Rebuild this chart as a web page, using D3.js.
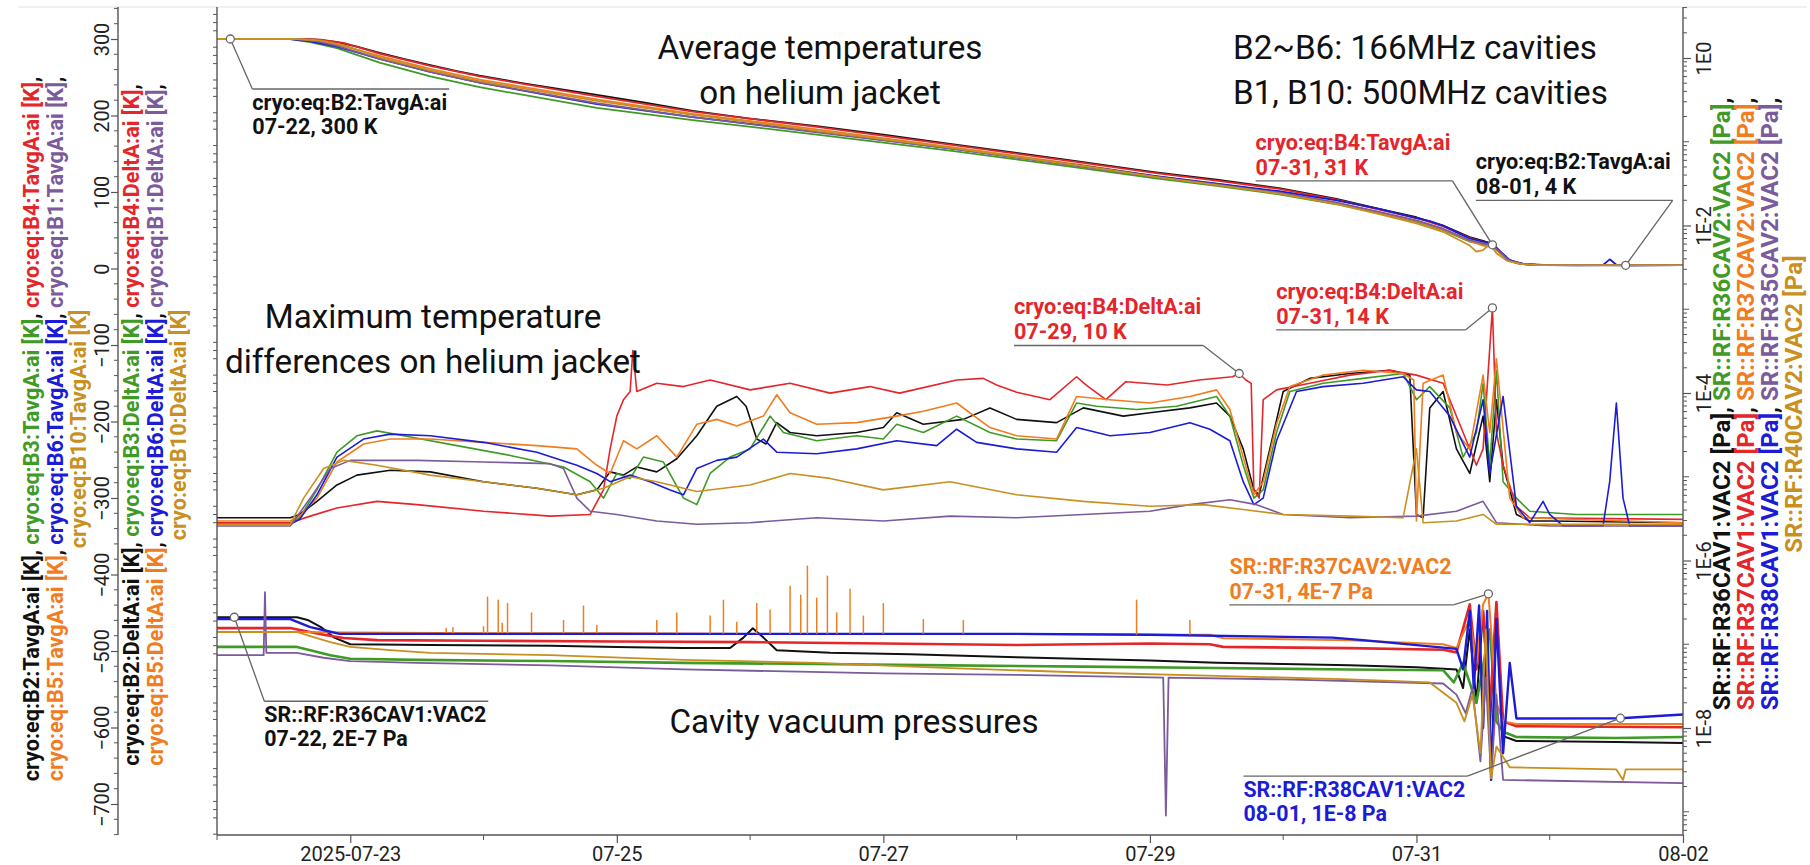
<!DOCTYPE html>
<html>
<head>
<meta charset="utf-8">
<script src="https://cdnjs.cloudflare.com/ajax/libs/d3/7.8.5/d3.min.js"></script>
<style>
  body { margin: 0; background: #fff; }
  svg { display: block; }
  text { font-family: Roboto, "DejaVu Sans", sans-serif; }
</style>
</head>
<body>
<svg id="chart" width="1810" height="865"></svg>
<script>
// ---------- time base: values are stored as days since 2025-07-22 00:00 (UTC) ----------
const START = Date.UTC(2025, 6, 22);
const dayToDate = d => new Date(START + d * 864e5);

// ---------- axis ticks ----------
const tavgTicks = [300, 200, 100, 0, -100, -200, -300, -400, -500, -600, -700];
const deltaTicks = [32, 30, 28, 26, 24, 22, 20, 18, 16, 14, 12, 10, 8, 6, 4, 2, 0, -2, -4, -6, -8, -10, -12, -14, -16, -18];
const vacTicks = [1, 1e-2, 1e-4, 1e-6, 1e-8];
const vacTickLabels = ["1E0", "1E-2", "1E-4", "1E-6", "1E-8"];
const dateTicks = ["2025-07-23", "2025-07-25", "2025-07-27", "2025-07-29", "2025-07-31", "2025-08-02"];
const dateTickLabels = ["2025-07-23", "07-25", "07-27", "07-29", "07-31", "08-02"];

// ---------- channel colours ----------
const colors = {
  B2: "#111111", B3: "#3f9a26", B4: "#e4262b", B5: "#f07d1f",
  B6: "#1c1cd6", B1: "#7b5b9c", B10: "#c8901f"
};
const vacColors = {
  R36CAV1: colors.B2, R36CAV2: colors.B3, R37CAV1: colors.B4, R37CAV2: colors.B5,
  R38CAV1: colors.B6, R35CAV2: colors.B1, R40CAV2: colors.B10
};

// ---------- average helium-jacket temperatures [K]: [day, value] ----------
const tavgB2 = [[0,300],[0.1,300],[0.62,300],[0.75,299],[0.9,296],[1.05,290],[1.22,282],[1.4,274],[1.6,266],[1.8,258],[1.97,252],[2.3,242],[2.85,227],[3.2,217],[3.57,206],[4.0,196],[4.5,186],[5.0,175],[5.5,163],[6.0,151],[6.5,139],[7.03,126],[7.5,116],[7.97,105],[8.4,91],[8.72,78],[9.0,67],[9.2,56],[9.4,41],[9.5,36],[9.57,32],[9.62,22],[9.68,12],[9.75,7],[9.85,5],[10.0,4.4],[10.57,4.2],[11,4.3]];
const tavgB3 = [[0,300],[0.55,300],[0.7,296],[0.9,288],[1.22,269],[1.6,251],[1.97,237],[2.85,210],[3.57,194],[4.5,175],[5.5,154],[6.5,131],[7.03,118],[7.5,108],[7.97,97],[8.4,84],[8.72,72],[9.0,61],[9.2,50],[9.4,35],[9.57,29],[9.63,20],[9.7,10],[9.8,6],[9.9,4.6],[11,4.4]];
const tavgB4 = [[0,300],[0.62,300],[0.78,299],[0.95,295],[1.22,281],[1.6,265],[1.97,251],[2.85,225],[3.57,205],[4.5,185],[5.5,162],[6.5,138],[7.03,125],[7.5,115],[7.97,104],[8.4,90],[8.72,77],[9.0,66],[9.2,55],[9.4,40],[9.57,31],[9.63,22],[9.7,11],[9.78,6],[9.9,4.6],[11,4.4]];
const tavgB5 = [[0,300],[0.6,300],[0.75,298],[0.9,293],[1.22,278],[1.6,261],[1.97,247],[2.85,221],[3.57,202],[4.5,182],[5.5,159],[6.5,135],[7.03,121],[7.5,111],[7.97,100],[8.4,86],[8.72,73],[9.0,62],[9.2,51],[9.4,36],[9.5,30],[9.57,28],[9.63,20],[9.7,10],[9.78,6],[9.9,4.6],[11,4.4]];
const tavgB6 = [[0,300],[0.55,300],[0.7,297],[0.9,290],[1.22,274],[1.6,257],[1.97,243],[2.85,215],[3.57,198],[4.5,179],[5.5,157],[6.5,134],[7.03,121],[7.5,111],[7.97,101],[8.4,89],[8.72,78],[9.0,66],[9.1,62],[9.2,56],[9.4,39],[9.5,35],[9.57,33],[9.63,22],[9.7,11],[9.8,6],[9.95,4.6],[10.2,4.0],[10.4,4.6],[10.45,12],[10.5,5],[10.6,4.2],[11,4.5]];
const tavgB1 = [[0,300],[0.6,300],[0.75,297],[0.9,291],[1.22,274],[1.6,257],[1.97,243],[2.85,216],[3.57,198],[4.5,178],[5.5,157],[6.5,133],[7.03,120],[7.5,110],[7.97,99],[8.4,86],[8.72,74],[9.0,63],[9.2,52],[9.4,37],[9.57,30],[9.63,21],[9.7,10],[9.8,6],[9.9,4.6],[11,4.4]];
const tavgB10 = [[0,300],[0.6,300],[0.78,298],[0.95,292],[1.22,276],[1.6,259],[1.97,245],[2.85,219],[3.57,201],[4.5,180],[5.5,158],[6.5,134],[7.03,120],[7.5,109],[7.97,98],[8.4,84],[8.72,71],[9.0,59],[9.2,48],[9.4,30],[9.45,22],[9.5,24],[9.55,32],[9.6,20],[9.68,10],[9.78,6],[9.9,4.6],[11,4.4]];

// ---------- maximum temperature differences [K]: [day, value] ----------
const deltaB2 = [[0,0.8],[0.55,0.8],[0.62,1.0],[0.75,1.8],[0.9,2.8],[1.05,3.4],[1.3,3.7],[1.6,3.6],[2.0,3.0],[2.4,2.6],[2.7,2.2],[2.85,2.5],[2.95,3.6],[3.05,3.4],[3.15,3.9],[3.3,3.6],[3.45,4.4],[3.6,5.8],[3.75,7.6],[3.9,8.2],[3.97,7.6],[4.05,5.6],[4.12,5.3],[4.2,6.6],[4.3,6.0],[4.5,5.8],[4.8,6.0],[5.0,6.3],[5.1,7.2],[5.3,6.5],[5.6,6.8],[5.8,7.5],[6.0,6.8],[6.3,6.6],[6.5,7.5],[6.8,7.0],[7.0,7.2],[7.3,7.5],[7.5,7.8],[7.6,7.0],[7.7,5.0],[7.78,2.5],[7.82,2.2],[7.9,5.0],[8.0,8.5],[8.2,9.3],[8.5,9.6],[8.8,9.8],[8.95,9.5],[9.0,1.0],[9.05,0.8],[9.1,7.5],[9.2,8.5],[9.3,5.0],[9.4,3.5],[9.5,7.0],[9.55,3.0],[9.6,8.0],[9.65,4.0],[9.75,1.0],[9.85,0.6],[10.0,0.6],[11,0.5]];
const deltaB3 = [[0,0.5],[0.55,0.5],[0.62,0.8],[0.75,2.5],[0.9,4.8],[1.05,5.8],[1.2,6.1],[1.4,5.8],[1.8,5.2],[2.2,4.6],[2.6,3.9],[2.8,3.0],[2.9,2.0],[3.0,3.5],[3.1,3.2],[3.2,4.5],[3.35,4.2],[3.5,2.0],[3.6,1.6],[3.7,3.5],[3.85,4.5],[4.0,5.0],[4.15,7.0],[4.25,6.0],[4.5,5.5],[4.8,5.8],[5.0,5.6],[5.1,6.5],[5.3,6.0],[5.55,7.0],[5.8,6.0],[6.0,5.6],[6.3,5.5],[6.45,7.8],[6.6,7.6],[6.9,7.4],[7.2,7.6],[7.5,8.2],[7.6,7.0],[7.7,4.0],[7.78,2.0],[7.85,2.5],[7.95,6.0],[8.05,8.5],[8.3,9.0],[8.6,9.3],[8.9,9.6],[9.0,8.0],[9.1,8.8],[9.25,7.5],[9.35,4.5],[9.45,6.0],[9.5,9.0],[9.55,4.0],[9.6,9.8],[9.65,3.0],[9.75,2.0],[9.85,1.2],[10.2,1.0],[11,1.0]];
const deltaB4 = [[0,0.5],[0.55,0.5],[0.7,0.9],[0.9,1.4],[1.2,1.8],[1.5,1.6],[2.0,1.2],[2.5,0.9],[2.8,1.0],[2.9,2.5],[2.95,5.0],[3.0,7.0],[3.05,8.0],[3.1,8.5],[3.12,11.0],[3.15,8.5],[3.3,9.0],[3.5,8.8],[3.7,9.2],[4.0,8.6],[4.3,9.0],[4.6,8.4],[4.9,8.8],[5.12,8.4],[5.55,9.2],[5.75,9.3],[5.85,8.9],[6.0,8.45],[6.25,8.0],[6.45,9.4],[6.52,8.9],[6.67,8.0],[6.82,9.1],[7.13,8.9],[7.37,9.2],[7.62,9.4],[7.67,9.6],[7.72,9.2],[7.76,9.0],[7.78,2.5],[7.82,2.0],[7.85,8.0],[7.95,8.6],[8.2,9.0],[8.5,9.5],[8.8,9.8],[9.0,9.5],[9.2,9.0],[9.35,6.0],[9.45,4.0],[9.5,5.0],[9.57,13.6],[9.6,6.0],[9.65,4.0],[9.75,1.5],[9.85,0.8],[11,0.7]];
const deltaB5 = [[0,0.6],[0.55,0.6],[0.62,0.9],[0.75,2.0],[0.9,4.2],[1.1,5.3],[1.3,5.6],[1.6,5.6],[2.0,5.4],[2.4,5.2],[2.7,5.0],[2.85,4.0],[2.95,3.5],[3.05,5.5],[3.15,5.0],[3.3,5.8],[3.45,4.5],[3.6,6.5],[3.75,6.8],[3.9,6.4],[4.1,7.0],[4.2,8.3],[4.3,7.2],[4.5,6.5],[4.8,6.6],[5.1,7.0],[5.3,7.3],[5.55,7.8],[5.8,6.3],[6.0,5.8],[6.3,5.6],[6.45,8.2],[6.7,8.0],[7.0,7.8],[7.3,8.2],[7.5,8.6],[7.6,7.4],[7.7,4.5],[7.78,2.2],[7.85,3.0],[7.95,6.5],[8.05,8.8],[8.3,9.5],[8.6,9.8],[8.9,9.6],[8.98,9.2],[9.0,0.6],[9.05,9.0],[9.2,9.5],[9.3,6.0],[9.4,5.0],[9.5,9.5],[9.55,6.0],[9.6,10.5],[9.7,2.0],[9.8,0.8],[11,0.5]];
const deltaB6 = [[0,0.4],[0.55,0.4],[0.62,0.7],[0.75,2.2],[0.9,4.5],[1.1,5.6],[1.3,5.9],[1.6,5.8],[2.0,5.4],[2.4,4.8],[2.7,4.0],[2.85,3.5],[2.95,3.0],[3.1,3.4],[3.25,3.0],[3.4,2.5],[3.5,2.2],[3.6,3.8],[3.75,4.3],[3.9,4.5],[4.1,5.6],[4.2,4.8],[4.5,4.7],[4.8,5.0],[5.1,5.5],[5.4,5.2],[5.55,6.2],[5.7,5.4],[6.0,5.0],[6.3,4.8],[6.45,6.3],[6.7,5.8],[7.0,6.0],[7.3,6.6],[7.45,6.2],[7.6,5.5],[7.7,3.0],[7.78,1.6],[7.85,2.0],[7.95,5.5],[8.1,8.5],[8.3,8.8],[8.6,9.0],[8.9,9.4],[9.0,8.6],[9.1,8.5],[9.25,7.0],[9.4,4.5],[9.5,8.0],[9.55,3.5],[9.65,8.2],[9.75,1.5],[9.85,0.5],[9.95,1.8],[10.0,1.0],[10.1,0.3],[10.4,0.3],[10.45,3.0],[10.5,7.8],[10.55,2.0],[10.6,0.3],[11,0.3]];
const deltaB1 = [[0,0.3],[0.55,0.3],[0.7,2.0],[0.85,3.8],[1.0,4.3],[1.5,4.3],[2.0,4.2],[2.5,4.1],[2.6,3.8],[2.7,2.0],[2.8,1.2],[3.0,1.0],[3.3,0.6],[3.6,0.4],[4.0,0.5],[4.5,0.8],[5.0,0.6],[5.5,0.9],[6.0,0.8],[6.5,1.0],[7.0,1.2],[7.3,1.6],[7.6,1.9],[7.8,1.6],[8.0,1.0],[8.5,0.8],[9.0,0.9],[9.3,1.2],[9.5,1.8],[9.6,0.5],[10,0.3],[11,0.3]];
const deltaB10 = [[0,0.4],[0.55,0.4],[0.65,2.0],[0.8,3.8],[0.95,4.3],[1.2,4.0],[1.6,3.4],[2.0,3.0],[2.4,2.6],[2.7,2.2],[2.9,2.6],[3.1,3.3],[3.3,3.0],[3.6,2.4],[4.0,2.8],[4.3,3.5],[4.6,3.2],[5.0,2.5],[5.5,3.0],[6.0,2.2],[6.5,1.8],[7.0,1.5],[7.4,1.6],[7.7,1.3],[8.0,1.0],[8.5,0.9],[8.9,0.8],[9.0,5.0],[9.05,0.5],[9.3,0.6],[9.5,1.0],[9.6,0.4],[11,0.4]];

// ---------- cavity vacuum pressures [Pa]: [day, value] ----------
const vacR36CAV1 = [[0,2.1e-7],[0.13,2.1e-7],[0.6,2.1e-7],[0.68,1.95e-7],[0.78,1.6e-7],[0.88,1.2e-7],[1.0,1.0e-7],[1.6,9.8e-8],[2.5,9.6e-8],[3.0,9.3e-8],[3.5,9.0e-8],[3.85,9.0e-8],[3.95,1.2e-7],[4.02,1.55e-7],[4.1,1.2e-7],[4.2,8.5e-8],[4.6,7.9e-8],[5.2,7.6e-8],[6.0,7.0e-8],[6.6,6.6e-8],[7.0,6.4e-8],[7.5,6.0e-8],[8.0,5.8e-8],[8.5,5.6e-8],[9.0,5.3e-8],[9.3,5.0e-8],[9.35,3.0e-8],[9.4,1.5e-7],[9.45,2.0e-8],[9.5,2.5e-7],[9.55,1e-8],[9.6,3e-7],[9.65,8e-9],[9.75,7.0e-9],[10.5,6.8e-9],[11,6.6e-9]];
const vacR36CAV2 = [[0,9.3e-8],[0.6,9.3e-8],[0.7,8.5e-8],[0.85,7.4e-8],[1.0,6.7e-8],[1.5,6.5e-8],[2.5,6.3e-8],[3.5,6.0e-8],[4.5,5.8e-8],[5.5,5.6e-8],[6.5,5.4e-8],[7.5,5.2e-8],[8.5,5.0e-8],[9.2,4.9e-8],[9.28,3.5e-8],[9.35,6e-8],[9.45,2e-8],[9.55,1.5e-7],[9.6,1.2e-8],[9.65,9e-9],[9.75,7.8e-9],[10.5,7.6e-9],[11,7.8e-9]];
const vacR37CAV1 = [[0,1.56e-7],[0.55,1.56e-7],[0.65,1.45e-7],[0.8,1.3e-7],[0.95,1.19e-7],[1.2,1.12e-7],[2.0,1.1e-7],[3.0,1.08e-7],[4.0,1.06e-7],[5.0,1.02e-7],[6.0,9.8e-8],[6.5,1.0e-7],[7.0,1.02e-7],[7.45,1.0e-7],[7.55,9.3e-8],[8.5,9.0e-8],[9.2,8.6e-8],[9.3,8.0e-8],[9.4,3e-7],[9.45,5e-8],[9.5,2.5e-7],[9.55,1.5e-8],[9.6,3.2e-7],[9.65,1.2e-8],[9.75,1.05e-8],[11,1.02e-8]];
const vacR37CAV2 = [[0,1.4e-7],[0.6,1.4e-7],[1.0,1.38e-7],[2.0,1.35e-7],[3.0,1.35e-7],[4.0,1.33e-7],[5.0,1.33e-7],[6.0,1.33e-7],[7.0,1.30e-7],[7.45,1.3e-7],[7.55,1.18e-7],[8.5,1.12e-7],[9.2,1.0e-7],[9.3,9e-8],[9.4,2e-7],[9.45,6e-8],[9.5,3e-7],[9.54,4e-7],[9.6,2e-8],[9.65,1.2e-8],[9.75,1.12e-8],[11,1.12e-8]];
const vacR38CAV1 = [[0,2.0e-7],[0.55,2.0e-7],[0.62,1.8e-7],[0.7,1.6e-7],[0.82,1.45e-7],[0.92,1.33e-7],[2.0,1.33e-7],[4.0,1.33e-7],[6.0,1.33e-7],[7.0,1.3e-7],[8.37,1.2e-7],[8.6,1.12e-7],[9.3,8.8e-8],[9.35,5e-8],[9.4,2.5e-7],[9.43,3e-8],[9.47,2.9e-7],[9.5,1.0e-8],[9.53,2.5e-7],[9.56,2.4e-9],[9.6,2e-7],[9.65,5e-9],[9.7,6e-8],[9.75,1.3e-8],[9.8,1.3e-8],[10.53,1.31e-8],[11,1.45e-8]];
const vacR35CAV2 = [[0,7.4e-8],[0.35,7.4e-8],[0.36,4.2e-7],[0.37,7.9e-8],[0.6,7.9e-8],[0.8,6.9e-8],[1.0,6.3e-8],[1.5,6.0e-8],[2.5,5.6e-8],[3.5,5.0e-8],[5.0,4.5e-8],[6.0,4.3e-8],[7.1,4.0e-8],[7.12,9e-10],[7.14,4.0e-8],[8.0,3.8e-8],[9.2,3.4e-8],[9.3,2.5e-8],[9.37,1.5e-8],[9.42,3e-8],[9.48,4e-9],[9.52,4e-8],[9.56,2.5e-9],[9.6,2.5e-8],[9.65,2.4e-9],[11,2.2e-9]];
const vacR40CAV2 = [[0,1.4e-7],[0.6,1.4e-7],[0.7,1.25e-7],[0.85,1.06e-7],[1.0,9.3e-8],[1.3,8.5e-8],[1.6,7.9e-8],[2.5,7.4e-8],[3.5,6.5e-8],[4.5,6.0e-8],[5.5,5.2e-8],[6.5,4.6e-8],[7.5,4.2e-8],[8.5,3.8e-8],[9.1,3.5e-8],[9.3,2.0e-8],[9.36,1.2e-8],[9.42,2.5e-8],[9.48,5e-9],[9.52,1.5e-7],[9.56,2.5e-9],[9.6,6e-9],[9.7,3.4e-9],[10.5,3.2e-9],[10.55,2.4e-9],[10.57,3.2e-9],[11,3.2e-9]];
// short pressure bursts on R37CAV2: [day, peak value]
const burstsR37CAV2 = [[1.72,1.56e-7],[1.77,1.6e-7],[2.0,1.64e-7],[2.03,3.7e-7],[2.11,3.4e-7],[2.14,1.8e-7],[2.18,3.1e-7],[2.36,2.4e-7],[2.6,1.95e-7],[2.75,2.9e-7],[2.85,1.7e-7],[3.3,1.95e-7],[3.45,2.4e-7],[3.7,2.2e-7],[3.8,3.4e-7],[3.9,1.85e-7],[4.05,3.1e-7],[4.15,2.6e-7],[4.3,5.0e-7],[4.38,3.9e-7],[4.43,8.7e-7],[4.5,3.6e-7],[4.58,6.6e-7],[4.65,2.4e-7],[4.75,4.6e-7],[4.85,2.2e-7],[5.0,3.1e-7],[5.3,2.0e-7],[5.6,1.95e-7],[6.9,3.4e-7],[7.3,1.95e-7]];

// ---------- series tables ----------
const tavgSeries = [
  {key: "B2", data: tavgB2}, {key: "B3", data: tavgB3}, {key: "B4", data: tavgB4},
  {key: "B5", data: tavgB5}, {key: "B6", data: tavgB6}, {key: "B1", data: tavgB1}, {key: "B10", data: tavgB10}
];
const deltaSeries = [
  {key: "B2", data: deltaB2}, {key: "B3", data: deltaB3}, {key: "B4", data: deltaB4},
  {key: "B5", data: deltaB5}, {key: "B6", data: deltaB6}, {key: "B1", data: deltaB1}, {key: "B10", data: deltaB10}
];
const vacSeries = [
  {key: "R36CAV1", data: vacR36CAV1, w: 2.0}, {key: "R36CAV2", data: vacR36CAV2, w: 2.6},
  {key: "R37CAV1", data: vacR37CAV1, w: 2.6}, {key: "R37CAV2", data: vacR37CAV2, w: 2.0},
  {key: "R38CAV1", data: vacR38CAV1, w: 2.4}, {key: "R35CAV2", data: vacR35CAV2, w: 1.8},
  {key: "R40CAV2", data: vacR40CAV2, w: 1.8}
];

// ---------- layout ----------
const P = {l: 217, r: 1683, t: 7, b: 835};
const svg = d3.select("#chart");
const axisColor = "#555";

const x = d3.scaleUtc().domain([dayToDate(0), dayToDate(11)]).range([P.l, P.r]);
const yT = d3.scaleLinear().domain([300, -700]).range([39, 804]);
const yD = d3.scaleLinear().domain([30, -18]).range([39, 826]);
const yV = d3.scaleLog().domain([1, 1e-8]).range([58, 728]);

// font size that makes `sample` span `width` pixels
function fittedSize(sample, width, base, weight) {
  const probe = svg.append("text").attr("font-size", base).attr("font-weight", weight)
    .style("white-space", "pre").text(sample);
  const w = probe.node().getComputedTextLength();
  probe.remove();
  return w > 0 ? base * width / w : base;
}
const sizeTempNote = fittedSize("cryo:eq:B2:TavgA:ai", 195, 22, 700);
const sizeVacNote = fittedSize("SR::RF:R36CAV1:VAC2", 222, 22, 700);
const sizeLeftTitle = fittedSize("cryo:eq:B2:TavgA:ai [K], cryo:eq:B3:TavgA:ai [K], cryo:eq:B4:TavgA:ai [K],", 705, 22, 700);
const sizeRightTitle = fittedSize("SR::RF:R36CAV1:VAC2 [Pa], SR::RF:R36CAV2:VAC2 [Pa],", 613, 22, 700);
const sizeCaption = fittedSize("Average temperatures", 325, 33, 400);

const defs = svg.append("defs");
defs.append("clipPath").attr("id", "plotClip")
  .append("rect").attr("x", P.l).attr("y", P.t).attr("width", P.r - P.l).attr("height", P.b - P.t);
defs.append("clipPath").attr("id", "tickClip")
  .append("rect").attr("x", 0).attr("y", P.t).attr("width", 1810).attr("height", 865 - P.t);

// widget frame line along the top
svg.append("line").attr("x1", 18).attr("x2", 1807).attr("y1", P.t).attr("y2", P.t)
  .attr("stroke", "#e2e2e2").attr("stroke-width", 1);

// ---------- traces ----------
const traces = svg.append("g").attr("clip-path", "url(#plotClip)");
function drawSeries(list, yScale, colorMap, width) {
  const line = d3.line().x(d => x(dayToDate(d[0]))).y(d => yScale(d[1]));
  list.forEach(s => {
    traces.append("path").datum(s.data)
      .attr("d", line).attr("fill", "none")
      .attr("stroke", colorMap[s.key]).attr("stroke-width", s.w || width)
      .attr("stroke-linejoin", "round");
  });
}
drawSeries(tavgSeries, yT, colors, 1.8);
drawSeries(deltaSeries, yD, colors, 1.6);
drawSeries(vacSeries, yV, vacColors, 1.8);

// bursts drawn as vertical strokes from the R37CAV2 base pressure
const baseAt = d => {
  const i = d3.bisector(p => p[0]).right(vacR37CAV2, d);
  const a = vacR37CAV2[Math.max(0, i - 1)], b = vacR37CAV2[Math.min(vacR37CAV2.length - 1, i)];
  const t = b[0] === a[0] ? 0 : (d - a[0]) / (b[0] - a[0]);
  return Math.exp(Math.log(a[1]) + t * (Math.log(b[1]) - Math.log(a[1])));
};
traces.selectAll(".burst").data(burstsR37CAV2).join("line")
  .attr("x1", d => x(dayToDate(d[0]))).attr("x2", d => x(dayToDate(d[0])))
  .attr("y1", d => yV(baseAt(d[0]))).attr("y2", d => yV(d[1]))
  .attr("stroke", vacColors.R37CAV2).attr("stroke-width", 1.5);

// ---------- axes ----------
function styleAxis(g) {
  g.attr("font-family", "Roboto, sans-serif").attr("font-size", 20);
  g.selectAll("line").attr("stroke", axisColor).attr("stroke-width", 1.2);
  g.selectAll("path.domain").remove();
  g.selectAll("text").attr("fill", "#222");
}
function vline(xp) {
  svg.append("line").attr("x1", xp).attr("x2", xp).attr("y1", P.t).attr("y2", P.b)
    .attr("stroke", axisColor).attr("stroke-width", 1.4);
}
function minorTicks(xp, values, scale, len) {
  svg.append("g").selectAll("line").data(values).join("line")
    .attr("x1", xp).attr("x2", xp + len)
    .attr("y1", d => scale(d)).attr("y2", d => scale(d))
    .attr("stroke", axisColor).attr("stroke-width", 1);
}

// outer left axis: average temperatures
const gT = svg.append("g").attr("transform", "translate(118,0)")
  .call(d3.axisLeft(yT).tickValues(tavgTicks).tickSize(7).tickSizeOuter(0).tickFormat(d3.format("d")));
styleAxis(gT);
gT.selectAll(".tick text").attr("x", null).attr("dy", null).attr("text-anchor", "middle")
  .attr("transform", "translate(-9,0) rotate(-90)");
vline(118);
minorTicks(118, d3.range(-740, 341, 20).filter(v => v % 100 !== 0 && yT(v) >= P.t && yT(v) <= P.b), yT, -4);

// inner left axis: temperature differences
const gD = svg.append("g").attr("transform", "translate(217,0)").attr("clip-path", "url(#tickClip)")
  .call(d3.axisLeft(yD).tickValues(deltaTicks).tickSize(7).tickSizeOuter(0).tickFormat(d3.format("d")));
styleAxis(gD);
gD.selectAll(".tick text").attr("x", null).attr("dy", null).attr("text-anchor", "middle")
  .attr("transform", "translate(-9,0) rotate(-90)");
vline(217);
minorTicks(217, d3.range(-18.5, 32, 0.5).filter(v => v % 2 !== 0 && yD(v) >= P.t && yD(v) <= P.b), yD, -4);

// right axis: pressures (log)
const gV = svg.append("g").attr("transform", `translate(${P.r},0)`)
  .call(d3.axisRight(yV).tickValues(vacTicks).tickSize(8).tickSizeOuter(0)
    .tickFormat((d, i) => vacTickLabels[i]));
styleAxis(gV);
gV.selectAll(".tick text").attr("x", null).attr("dy", null).attr("text-anchor", "middle")
  .attr("transform", "translate(28,0) rotate(-90)");
vline(P.r);
const vacMinor = [];
for (let k = -10; k <= 1; k++) {
  for (let m = 2; m <= 9; m++) vacMinor.push(m * Math.pow(10, k));
}
minorTicks(P.r, vacMinor.filter(v => yV(v) >= P.t && yV(v) <= P.b), yV, 4);
minorTicks(P.r, [1e-1, 1e-3, 1e-5, 1e-7, 1e-9], yV, 6);

// bottom time axis
const gX = svg.append("g").attr("transform", `translate(0,${P.b})`)
  .call(d3.axisBottom(x).tickValues(dateTicks.map(s => new Date(s + "T00:00:00Z")))
    .tickSize(8).tickPadding(4).tickSizeOuter(0).tickFormat((d, i) => dateTickLabels[i]));
styleAxis(gX);
svg.append("line").attr("x1", P.l).attr("x2", P.r).attr("y1", P.b).attr("y2", P.b)
  .attr("stroke", axisColor).attr("stroke-width", 1.4);
svg.append("g").selectAll("line").data([0, 2, 4, 6, 8, 10]).join("line")
  .attr("x1", d => x(dayToDate(d))).attr("x2", d => x(dayToDate(d)))
  .attr("y1", P.b).attr("y2", P.b + 5).attr("stroke", axisColor).attr("stroke-width", 1);

// ---------- rotated multi-colour axis titles ----------
function rotatedTitle(xBase, yCenter, parts, size) {
  const t = svg.append("text")
    .attr("transform", `translate(${xBase},${yCenter}) rotate(-90)`)
    .attr("text-anchor", "middle").attr("font-size", size).attr("font-weight", 700)
    .style("white-space", "pre");
  parts.forEach(p => t.append("tspan").attr("fill", p.c).text(p.t));
}
function titleLines(groups, nameOf, colorOf, unit, xs, yc, size) {
  groups.forEach((keys, li) => {
    const parts = [];
    keys.forEach((k, i) => {
      parts.push({t: `${nameOf(k)} [${unit}]`, c: colorOf(k)});
      const last = li === groups.length - 1 && i === keys.length - 1;
      if (!last) parts.push({t: i === keys.length - 1 ? "," : ", ", c: "#111"});
    });
    rotatedTitle(xs[li], yc, parts, size);
  });
}
const tempGroups = [["B2", "B3", "B4"], ["B5", "B6", "B1"], ["B10"]];
titleLines(tempGroups, k => `cryo:eq:${k}:TavgA:ai`, k => colors[k], "K", [39, 63, 86], 429, sizeLeftTitle);
titleLines(tempGroups, k => `cryo:eq:${k}:DeltA:ai`, k => colors[k], "K", [139, 163, 186], 425, sizeLeftTitle);
const vacGroups = [["R36CAV1", "R36CAV2"], ["R37CAV1", "R37CAV2"], ["R38CAV1", "R35CAV2"], ["R40CAV2"]];
titleLines(vacGroups, k => `SR::RF:${k}:VAC2`, k => vacColors[k], "Pa", [1730, 1754, 1778, 1802], 404, sizeRightTitle);

// ---------- section captions ----------
function caption(lines, xp, y0, anchor) {
  const t = svg.append("text").attr("font-size", sizeCaption).attr("fill", "#111").attr("text-anchor", anchor);
  lines.forEach((s, i) => t.append("tspan").attr("x", xp).attr("y", y0 + i * 45).text(s));
}
caption(["Average temperatures", "on helium jacket"], 820, 59, "middle");
caption(["B2~B6: 166MHz cavities", "B1, B10: 500MHz cavities"], 1233, 59, "start");
caption(["Maximum temperature", "differences on helium jacket"], 433, 328, "middle");
caption(["Cavity vacuum pressures"], 854, 733, "middle");

// ---------- annotations ----------
const fmtDay = d3.utcFormat("%m-%d");
const fmtK = v => d3.format(".0f")(v) + " K";
const fmtPa = v => d3.format(".0e")(v).toUpperCase() + " Pa";
const notes = [
  {data: tavgB2, day: 0.1, name: "cryo:eq:B2:TavgA:ai", y: yT, fmt: fmtK, color: colors.B2, dx: 22, dy: 50, below: true, side: "left"},
  {data: tavgB4, day: 9.57, name: "cryo:eq:B4:TavgA:ai", y: yT, fmt: fmtK, color: colors.B4, dx: -40, dy: -64, below: false, side: "right"},
  {data: tavgB2, day: 10.57, name: "cryo:eq:B2:TavgA:ai", y: yT, fmt: fmtK, color: colors.B2, dx: 47, dy: -65, below: false, side: "right"},
  {data: deltaB4, day: 9.57, name: "cryo:eq:B4:DeltA:ai", y: yD, fmt: fmtK, color: colors.B4, dx: -27, dy: 22, below: false, side: "right"},
  {data: deltaB4, day: 7.67, name: "cryo:eq:B4:DeltA:ai", y: yD, fmt: fmtK, color: colors.B4, dx: -36, dy: -28, below: false, side: "right"},
  {data: vacR36CAV1, day: 0.13, name: "SR::RF:R36CAV1:VAC2", y: yV, fmt: fmtPa, color: colors.B2, dx: 30, dy: 84, below: true, side: "left"},
  {data: vacR37CAV2, day: 9.54, name: "SR::RF:R37CAV2:VAC2", y: yV, fmt: fmtPa, color: vacColors.R37CAV2, dx: -35, dy: 11, below: false, side: "right"},
  {data: vacR38CAV1, day: 10.53, name: "SR::RF:R38CAV1:VAC2", y: yV, fmt: fmtPa, color: vacColors.R38CAV1, dx: -153, dy: 58, below: true, side: "right"}
];
const noteLayer = svg.append("g");
notes.forEach(n => {
  const pt = n.data.find(p => p[0] === n.day);
  const px = x(dayToDate(pt[0])), py = n.y(pt[1]);
  const ly = py + n.dy;
  const g = noteLayer.append("g");
  const size = n.y === yV ? sizeVacNote : sizeTempNote;
  const t = g.append("text").attr("font-size", size).attr("font-weight", 700).attr("fill", n.color)
    .style("white-space", "pre");
  const l1 = t.append("tspan").text(n.name);
  const l2 = t.append("tspan").text(`${fmtDay(dayToDate(pt[0]))}, ${n.fmt(pt[1])}`);
  const w = Math.max(l1.node().getComputedTextLength(), l2.node().getComputedTextLength()) + 2;
  const endX = px + n.dx;
  const x0 = n.side === "left" ? endX : endX - w;
  const ys = n.below ? [ly + 21, ly + 45] : [ly - 31, ly - 6];
  l1.attr("x", x0).attr("y", ys[0]);
  l2.attr("x", x0).attr("y", ys[1]);
  g.append("line").attr("x1", x0).attr("x2", x0 + w).attr("y1", ly).attr("y2", ly)
    .attr("stroke", "#666").attr("stroke-width", 1.3);
  g.append("line").attr("x1", endX).attr("x2", px).attr("y1", ly).attr("y2", py)
    .attr("stroke", "#666").attr("stroke-width", 1.3);
  g.append("circle").attr("cx", px).attr("cy", py).attr("r", 4)
    .attr("fill", "#fff").attr("stroke", "#666").attr("stroke-width", 1.3);
});
</script>
</body>
</html>
